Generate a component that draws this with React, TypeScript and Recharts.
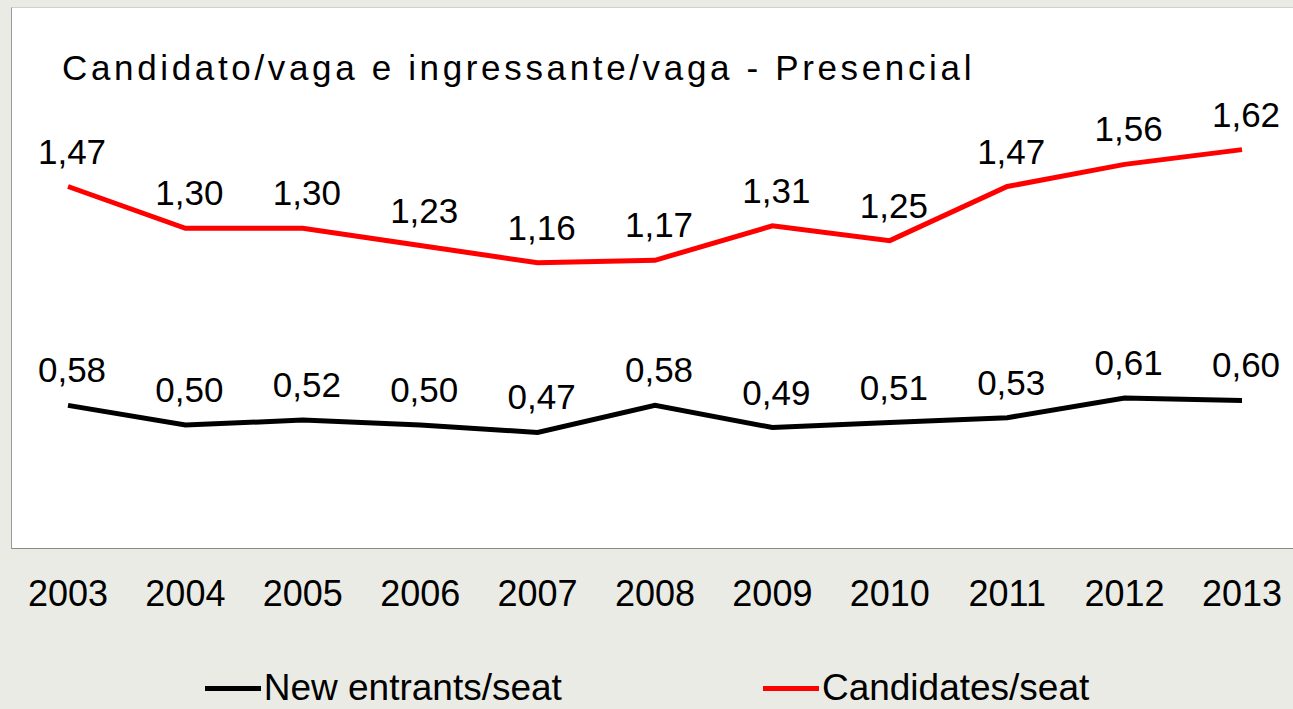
import React from "react";
import { LineChart, Line, XAxis, YAxis, Legend, LabelList } from "recharts";

// Candidato/vaga e ingressante/vaga - Presencial, 2003-2013
const years = ["2003", "2004", "2005", "2006", "2007", "2008", "2009", "2010", "2011", "2012", "2013"];
const candidatesPerSeat = [1.47, 1.3, 1.3, 1.23, 1.16, 1.17, 1.31, 1.25, 1.47, 1.56, 1.62];
const entrantsPerSeat = [0.58, 0.5, 0.52, 0.5, 0.47, 0.58, 0.49, 0.51, 0.53, 0.61, 0.6];

const data = years.map((year, i) => ({
  year,
  entrants: entrantsPerSeat[i],
  candidates: candidatesPerSeat[i],
}));

const FONT = '"Liberation Sans", Arial, sans-serif';

const fmt = (v: number) => v.toFixed(2).replace(".", ",");

const ValueLabel = (props: any) => {
  const { x, y, value } = props;
  return (
    <text x={x + 4} y={y - 23} textAnchor="middle" fontSize={35} fontFamily={FONT} fill="#000">
      {fmt(value)}
    </text>
  );
};

const YearTick = (props: any) => {
  const { x, y, payload } = props;
  return (
    <text x={x} y={y} dy={50} textAnchor="middle" fontSize={36} fontFamily={FONT} fill="#000">
      {payload.value}
    </text>
  );
};

const legendItems = [
  { name: "New entrants/seat", color: "#000000" },
  { name: "Candidates/seat", color: "#ff0000" },
];

const LegendContent = () => (
  <div
    style={{
      display: "flex",
      justifyContent: "center",
      gap: 201,
      paddingTop: 29,
      marginLeft: -16,
      fontFamily: FONT,
      fontSize: 37,
      color: "#000",
      lineHeight: "40px",
    }}
  >
    {legendItems.map((it) => (
      <div key={it.name} style={{ display: "flex", alignItems: "center" }}>
        <span style={{ display: "inline-block", width: 56, height: 5, background: it.color, marginRight: 3 }} />
        <span>{it.name}</span>
      </div>
    ))}
  </div>
);

export default function App() {
  return (
    <div
      style={{
        position: "absolute",
        top: 0,
        left: 0,
        width: 1293,
        height: 709,
        overflow: "hidden",
        background: "#ebebe5",
      }}
    >
      <div
        style={{
          position: "absolute",
          left: 11,
          top: 7,
          width: 1300,
          height: 540,
          background: "#fff",
          borderLeft: "1px solid #9a9a9a",
          borderTop: "1px solid #d0d0cc",
          borderBottom: "1px solid #8a8a8a",
        }}
      />
      <div
        style={{
          position: "absolute",
          left: 62,
          top: 48,
          fontFamily: FONT,
          fontSize: 35,
          letterSpacing: 3.65,
          color: "#000",
          whiteSpace: "nowrap",
        }}
      >
        Candidato/vaga e ingressante/vaga - Presencial
      </div>
      <div style={{ position: "absolute", left: 0, top: 0 }}>
        <LineChart width={1300} height={709} data={data} margin={{ top: 7, right: 0, left: 10, bottom: 0 }}>
          <XAxis
            dataKey="year"
            axisLine={false}
            tickLine={false}
            interval={0}
            padding={{ left: 58, right: 58 }}
            height={91}
            tick={<YearTick />}
          />
          <YAxis hide domain={[0, 2.2]} />
          <Legend verticalAlign="bottom" height={70} content={<LegendContent />} />
          <Line
            type="linear"
            dataKey="entrants"
            name="New entrants/seat"
            stroke="#000000"
            strokeWidth={5}
            dot={false}
            isAnimationActive={false}
          >
            <LabelList dataKey="entrants" content={<ValueLabel />} />
          </Line>
          <Line
            type="linear"
            dataKey="candidates"
            name="Candidates/seat"
            stroke="#ff0000"
            strokeWidth={5}
            dot={false}
            isAnimationActive={false}
          >
            <LabelList dataKey="candidates" content={<ValueLabel />} />
          </Line>
        </LineChart>
      </div>
    </div>
  );
}
